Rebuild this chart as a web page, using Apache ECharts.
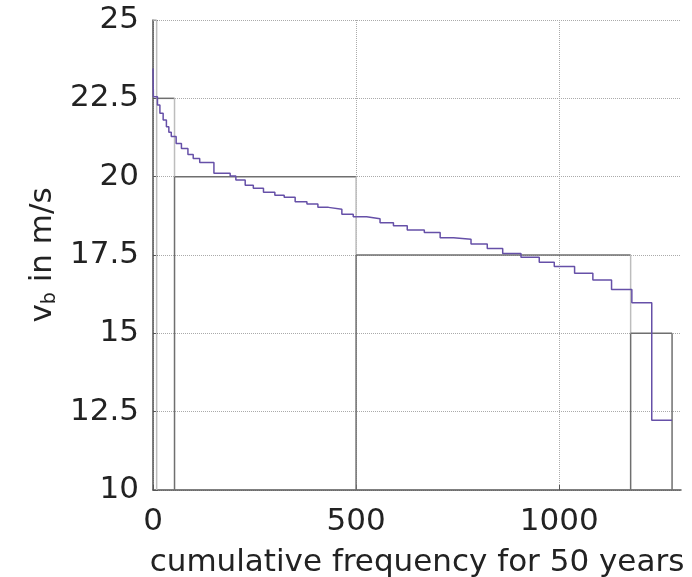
<!DOCTYPE html>
<html>
<head>
<meta charset="utf-8">
<script src="https://cdn.jsdelivr.net/npm/echarts@6/dist/echarts.min.js"></script>
<style>
  html, body { margin: 0; padding: 0; background: #fff; }
  #chart { width: 692px; height: 577px; }
</style>
</head>
<body>
<div id="chart"></div>
<script>
// axis ticks
const xTicks = [0, 500, 1000]
const yTicks = [10, 12.5, 15, 17.5, 20, 22.5, 25]
const xMax = 1300

// purple step curve: start of each step and its level
const stepX = [0, 1, 11, 17, 25, 33, 39, 45, 57, 70, 86, 99, 115, 150, 190, 204, 227, 247, 272, 300, 323, 350,
  379, 406, 432, 465, 493, 526, 559, 592, 626, 668, 707, 740, 783, 823, 861, 906, 951, 988, 1038, 1083,
  1129, 1179, 1228, 1278]
const stepV = [23.45, 22.55, 22.29, 22.02, 21.81, 21.59, 21.42, 21.28, 21.06, 20.9, 20.71, 20.58, 20.45, 20.11,
  20.02, 19.89, 19.73, 19.63, 19.5, 19.41, 19.34, 19.2, 19.13, 19.02, 18.96, 18.8, 18.72, 18.66, 18.53, 18.43,
  18.3, 18.22, 18.05, 18.0, 17.85, 17.71, 17.55, 17.43, 17.27, 17.13, 16.92, 16.7, 16.4, 15.98, 12.23, 12.23]

// gray class bars
const barStart = [0, 9, 53, 500, 1176]
const barEnd = [9, 53, 500, 1176, 1278]
const barHeight = [25, 22.5, 20, 17.5, 15]

const font = '"DejaVu Sans", Verdana, sans-serif'
const dark = '#6f6f6f'
const light = '#bdbdbd'
const textColor = '#222'

const chart = echarts.init(document.getElementById('chart'))

// 灰色柱：只画顶边和右边，右边高出下一根柱子的部分画浅色
const renderBar = (params, api) => {
  const i = params.dataIndex
  const x0 = api.value(0)
  const x1 = api.value(1)
  const h = api.value(2)
  const base = yTicks[0]
  const first = i === 0
  const hasNext = i + 1 < barHeight.length
  const nextH = hasNext ? barHeight[i + 1] : base
  const tl = api.coord([x0, h])
  const tr = api.coord([x1, h])
  const br = api.coord([x1, base])
  const mid = api.coord([x1, nextH])
  const seg = (a, b, color) => ({
    type: 'line',
    shape: { x1: a[0], y1: a[1], x2: b[0], y2: b[1] },
    style: { stroke: color, lineWidth: 1.5 },
  })
  const children = [seg(tl, tr, first ? light : dark)]
  if (hasNext) {
    children.push(seg(br, mid, first ? light : dark))
    children.push(seg(mid, tr, light))
  } else {
    children.push(seg(br, tr, dark))
  }
  return { type: 'group', children }
}

const option = {
  animation: false,
  grid: { left: 153, right: 11, top: 20, bottom: 87, containLabel: false, outerBoundsMode: 'none' },
  xAxis: {
    type: 'value',
    min: xTicks[0],
    max: xMax,
    interval: xTicks[1] - xTicks[0],
    name: 'cumulative frequency for 50 years',
    nameLocation: 'middle',
    nameGap: 57,
    nameTextStyle: { fontFamily: font, fontSize: 31, color: textColor },
    axisLine: { show: true, lineStyle: { color: '#555', width: 1.5 } },
    axisTick: { show: true, inside: true, length: 5, lineStyle: { color: '#555' } },
    axisLabel: {
      fontFamily: font,
      fontSize: 31,
      color: textColor,
      margin: 16,
      showMaxLabel: false,
      formatter: (v) => String(v),
    },
    splitLine: { show: true, showMaxLine: false, lineStyle: { type: 'dotted', color: '#aaa', width: 1 } },
  },
  yAxis: {
    type: 'value',
    min: yTicks[0],
    max: yTicks[yTicks.length - 1],
    interval: yTicks[1] - yTicks[0],
    name: '{v|v}{b|b}{v| in m/s}',
    nameLocation: 'middle',
    nameGap: 92,
    nameRotate: 90,
    nameTextStyle: {
      fontFamily: font,
      color: textColor,
      rich: {
        v: { fontFamily: font, fontSize: 31, color: textColor },
        b: { fontFamily: font, fontSize: 19, color: textColor, verticalAlign: 'bottom', padding: [14, 0, 0, 0] },
      },
    },
    axisLine: { show: true, lineStyle: { color: '#555', width: 1.5 } },
    axisTick: { show: true, inside: true, length: 5, lineStyle: { color: '#555' } },
    axisLabel: { fontFamily: font, fontSize: 31, color: textColor, margin: 14 },
    splitLine: { show: true, lineStyle: { type: 'dotted', color: '#aaa', width: 1 } },
  },
  series: [
    {
      type: 'custom',
      renderItem: renderBar,
      data: barStart.map((s, i) => [s, barEnd[i], barHeight[i]]),
      silent: true,
      z: 2,
    },
    {
      type: 'line',
      step: 'end',
      showSymbol: false,
      data: stepX.map((x, i) => [x, stepV[i]]),
      lineStyle: { color: '#6650a8', width: 1.5 },
      z: 3,
    },
  ],
}

chart.setOption(option)
</script>
</body>
</html>
